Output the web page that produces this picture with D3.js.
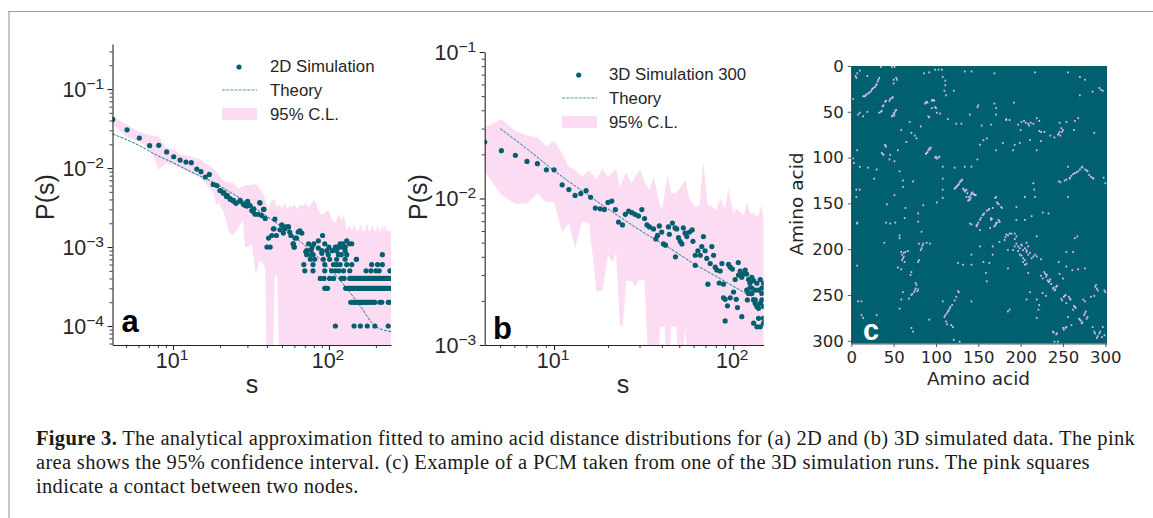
<!DOCTYPE html>
<html>
<head>
<meta charset="utf-8">
<script src="https://cdn.jsdelivr.net/npm/d3@7"></script>
<style>
  html, body { margin: 0; padding: 0; background: #fff; }
  svg { display: block; }
  text { font-family: "Liberation Sans", Arial, sans-serif; fill: #262626; }
</style>
</head>
<body>
<div id="chart"></div>
<script>
// Panel a: simulated P(s), upper part of the curve
var simAS = [4.1,5.07,6.08,7.08,8.1,9.1,10.1,11.1,12.1,13.1,14.2,15.1,16.1,17.1,18.1,19.1,20.2,21.2,22.3,23.4,24.4,25.4,26.9,28.7,30.1,31.2,33,36.1,38.3,
  20,21,22,23.2,24.4,25.3,26.9,28.2,29.7,30,32,32.7,33.6,35.2,36,38,37,39,45,41,43,44,46,48.5,50,52,55,56,63.5,60.5,59,
  44.4,49.7,51,53,55,57,65,67,62,59,59.7,74,80,85.5,91,94,71,77,79,85.5,90,123,116,130,118,220,150,105,110,126,135,140];
var simAP = [4.13e-2,3.05e-2,2.4e-2,1.92e-2,1.94e-2,1.6e-2,1.39e-2,1.26e-2,1.19e-2,1.17e-2,9.7e-3,9e-3,7.7e-3,8.3e-3,6.2e-3,6e-3,5.2e-3,4.9e-3,4.5e-3,4e-3,3.8e-3,3.6e-3,3.8e-3,3.4e-3,3.8e-3,3.35e-3,3.05e-3,3.6e-3,3e-3,
  5.2e-3,4.8e-3,4.35e-3,4.1e-3,3.9e-3,3.6e-3,3.9e-3,3.5e-3,3.3e-3,3.65e-3,2.9e-3,2.8e-3,2.6e-3,2.6e-3,3.65e-3,3e-3,2.5e-3,2.3e-3,2.25e-3,1.3e-3,1.4e-3,1.7e-3,1.4e-3,1.65e-3,1.9e-3,1.7e-3,1.8e-3,1.55e-3,1.55e-3,1.3e-3,1.1e-3,
  1.7e-3,1.9e-3,1.5e-3,1.8e-3,1.8e-3,1.4e-3,1.6e-3,1.5e-3,1.3e-3,1.1e-3,1e-3,1.1e-3,1.1e-3,1.2e-3,1.4e-3,1.1e-3,8.7e-4,9.2e-4,8e-4,9.7e-4,8.3e-4,1.1e-3,1e-3,1.2e-3,1.1e-3,8e-4,7e-4,9e-4,1e-3,1e-3,1.1e-3,1.1e-3];

// Panel a: counts are discrete in the tail, so s is listed per P level
var tailLevels = [1e-4,2e-4,3e-4,4e-4,5e-4,6e-4,7e-4,8e-4,9e-4,1e-3];
var tailS1 = [110,145,159,176,197,240];
var tailS2 = [138,142,145,148,151,154,157,160,163,166,170,174,178,182,186,190,194,197,212,218,240,245];
var tailS3 = [94,96,98,128,131,134,137,140,143,146,149,152,155,158,161,164,167,170,173,176,179,182,185,188,191,194,197,200,204,208,212,216,220,224,228,232,236,240,245,250];
var tailS4 = [88,93,101,107,120,125,136,139,142,145,148,151,155,159,163,167,171,175,179,183,187,191,195,199,203,207,211,215,220,225,230,235,240,250];
var tailS5 = [70,79,94,104,110,116,124,136,173,186,200,210,246];
var tailS6 = [69,79,94,107,112,118,130,140,188,205,220];
var tailS7 = [76,81,92,101,112,127,150];
var tailS8 = [72,77,99,115,120,130];
var tailS9 = [72,90,97,112,127];
var tailS10 = [40,42,60,78,100,112,120,127];
var tailRows = [tailS1,tailS2,tailS3,tailS4,tailS5,tailS6,tailS7,tailS8,tailS9,tailS10];

var theoryAS = [4.1,6,8,10,13,17,22,30,40,60,80,100,130,160,197,220,250];
var theoryAP = [2.7e-2,1.95e-2,1.43e-2,1.17e-2,9e-3,7e-3,5.3e-3,3.6e-3,2.45e-3,1.35e-3,8.3e-4,5.4e-4,3e-4,1.75e-4,1e-4,9e-5,8.5e-5];

var bandAS = [4.1,5,6,7.1,8.1,9,10,11,12,13,
  14.8,16,18,19,19.5,21,23,24.4,26,28,
  29,30,32,34,36,38,39,39.9,41,42,
  43.5,45,46.5,48,50,52,54,56,58,60,
  62,65,68,71,74,77,81,85,90,95,
  100,105,110,115,120,125,130,135,140,145,
  150,155,160,165,170,175,180,185,190,195,
  200,205,210,215,220,225,230,235,240,250];
var bandAUpper = [4.5e-2,3.6e-2,2.9e-2,2.6e-2,2.5e-2,1.8e-2,1.75e-2,1.5e-2,1.45e-2,1.4e-2,
  1.3e-2,1.15e-2,1e-2,9e-3,8.5e-3,6.8e-3,6.6e-3,6.4e-3,5.5e-3,5.8e-3,
  6.1e-3,6.1e-3,6.1e-3,6.3e-3,5.5e-3,4.6e-3,3.9e-3,3.5e-3,2.95e-3,3.6e-3,
  3.9e-3,3.9e-3,3.2e-3,3.4e-3,3.1e-3,3.6e-3,3e-3,3.3e-3,3.2e-3,3.5e-3,
  3e-3,3.4e-3,3.3e-3,3.6e-3,3.2e-3,3.5e-3,4e-3,3e-3,2.5e-3,2.8e-3,
  2.9e-3,2.2e-3,2e-3,2.6e-3,2.2e-3,2.5e-3,1.6e-3,1.9e-3,1.6e-3,1.9e-3,
  1.6e-3,1.6e-3,1.95e-3,1.6e-3,1.6e-3,2e-3,1.6e-3,1.6e-3,1.95e-3,1.6e-3,
  1.6e-3,1.95e-3,1.6e-3,1.6e-3,1.95e-3,1.6e-3,1.9e-3,1.6e-3,1.6e-3,1.6e-3];
var bandALower = [3.7e-2,2.5e-2,2.2e-2,1.75e-2,9.6e-3,1.15e-2,1.1e-2,1e-2,9.3e-3,8.5e-3,
  7.7e-3,6.5e-3,5e-3,3.4e-3,3.6e-3,2.9e-3,1.48e-3,1.45e-3,1.7e-3,2.2e-3,
  1e-3,1e-3,1.1e-3,4.4e-4,6.8e-4,6e-4,5.5e-4,3e-5,3e-5,3e-5,
  3e-5,4.4e-4,4.4e-4,3e-5,3e-5,3e-5,3e-5,3e-5,3e-5,3e-5,
  3e-5,3e-5,3e-5,3e-5,3e-5,3e-5,3e-5,3e-5,3e-5,3e-5,
  3e-5,3e-5,3e-5,3e-5,3e-5,3e-5,3e-5,3e-5,3e-5,3e-5,
  3e-5,3e-5,3e-5,3e-5,3e-5,3e-5,3e-5,3e-5,3e-5,3e-5,
  3e-5,3e-5,3e-5,3e-5,3e-5,3e-5,3e-5,3e-5,3e-5,3e-5];

// Panel b
var simBS = [4.1,5.08,6.08,7.06,8.07,9.06,10,11.1,12.1,13.1,14.1,15.1,16,17,18.1,19.1,20,21,22,
  22.9,24.1,25,26.1,27.2,28.3,29.6,30.9,32,33,34.1,35.9,38.7,37.8,37,39.9,40.8,41.9,43.5,44,45.8,47.4,48.4,47.6,49.5,50.6,51.7,52.7,53.9,55.1,57,59,59.6,61.4,61.4,63.5,65.5,66.8,68.2,69.7,71.2,72.2,74.4,76,77.7,79.4,81,83.6,84.6,86.5,88.3,90.2,88.3,90.2,92.9,94.2,96.2,99,96.2,100.4,102.6,104,105.7,106.7,
  107,109.4,111.7,114,116.7,119,121.8,124,127,129.9,132.7,135.6,138.5,141.6,144.5,147.6,
  111.7,119,121.8,120,127,129.9,132.7,135.6,138.5,141.6,144.5,147.6,130,135.6,141.6,147.6,124,127,144.5,138.5,132.7,147.6];
var simBP = [2.43e-2,2.12e-2,1.97e-2,1.79e-2,1.73e-2,1.57e-2,1.57e-2,1.24e-2,1.15e-2,1.05e-2,1.08e-2,1.13e-2,1.02e-2,8.6e-3,8.5e-3,8.4e-3,9.4e-3,9.6e-3,8.4e-3,
  6.9e-3,6.6e-3,7.8e-3,8.2e-3,8e-3,7.8e-3,7.6e-3,8.4e-3,7.3e-3,6.6e-3,6.4e-3,6.2e-3,6.5e-3,5.6e-3,5.3e-3,5.9e-3,4.9e-3,4.8e-3,6.4e-3,5.7e-3,6.8e-3,6.3e-3,6.2e-3,4e-3,5.4e-3,5.1e-3,4.9e-3,6.3e-3,5.8e-3,5.5e-3,5.9e-3,6.1e-3,5.1e-3,4.1e-3,3.5e-3,4.4e-3,4.1e-3,4.7e-3,5.5e-3,4.4e-3,3.9e-3,2.6e-3,3.6e-3,4.7e-3,4.1e-3,3.4e-3,3.25e-3,2.65e-3,3.2e-3,3.6e-3,2.6e-3,1.46e-3,2.1e-3,2.05e-3,1.85e-3,3.55e-3,3.4e-3,3.3e-3,2.1e-3,2.3e-3,2.8e-3,2.05e-3,1.8e-3,3.65e-3,
  3e-3,3.2e-3,2.9e-3,3.05e-3,3.25e-3,3.05e-3,2.8e-3,2.64e-3,2.45e-3,2.03e-3,1.92e-3,1.83e-3,1.78e-3,1.92e-3,2.03e-3,1.83e-3,
  1.56e-3,2.37e-3,2.25e-3,2.03e-3,2.9e-3,2.75e-3,2.37e-3,2.64e-3,2.37e-3,2.8e-3,2.45e-3,2.64e-3,1.41e-3,1.33e-3,1.33e-3,1.41e-3,2.45e-3,2.25e-3,2.25e-3,1.52e-3,2.03e-3,1.52e-3];

var theoryBS = [5,7,10,14,20,30,44,60,80,109,148];
var theoryBP = [3e-2,2.2e-2,1.55e-2,1.15e-2,8.5e-3,6.1e-3,4.6e-3,3.6e-3,2.95e-3,2.37e-3,1.9e-3];

var bandBS = [4.1,5.08,6.08,7.06,8.07,9.06,10,11.1,12.1,13.1,
  14.3,15.7,17.3,18.6,20,21.3,22.2,23.3,24.2,25.3,
  27.2,28.3,30.2,32,34,36,38,39,40,41.5,
  43,45,48,51,54,57,61,65,68,72,
  76,80,85,90,94,100,105,110,115,119,
  125,130,135,140,144,148];
var bandBUpper = [3.06e-2,3.47e-2,2.9e-2,2.69e-2,2.62e-2,2.26e-2,2.48e-2,2.03e-2,1.65e-2,1.57e-2,
  1.41e-2,1.55e-2,1.35e-2,1.6e-2,1.41e-2,1.5e-2,1.6e-2,1.2e-2,1.35e-2,1.5e-2,
  1.27e-2,1.4e-2,1.58e-2,1.3e-2,1.14e-2,1.41e-2,1.05e-2,9e-3,8.4e-3,1.1e-2,
  1.44e-2,1.1e-2,1.08e-2,1.2e-2,1.34e-2,1e-2,8.8e-3,9e-3,1.81e-2,9e-3,
  8.8e-3,8.3e-3,1e-2,8.5e-3,1.17e-2,7.9e-3,8.5e-3,8e-3,7.7e-3,9.5e-3,
  7.8e-3,8e-3,7.5e-3,8e-3,9e-3,7.1e-3];
var bandBLower = [1.52e-2,1.06e-2,9.2e-3,9.2e-3,1.08e-2,9.4e-3,9.5e-3,5.9e-3,6.8e-3,4.57e-3,
  6.95e-3,6.8e-3,2.31e-3,2.36e-3,4.1e-3,3.7e-3,4.3e-3,1.37e-3,1.37e-3,2.75e-3,
  2.75e-3,2.5e-3,2.8e-3,2.75e-3,5e-4,5e-4,5e-4,1.33e-3,1.33e-3,1.33e-3,
  5e-4,1.33e-3,1.35e-3,5e-4,1.35e-3,5e-4,5e-4,5e-4,5e-4,5e-4,
  5e-4,5e-4,5e-4,5e-4,5e-4,5e-4,5e-4,5e-4,5e-4,5e-4,
  5e-4,5e-4,5e-4,5e-4,5e-4,5e-4];

// Panel c: contacts as [amino acid on x, amino acid on y]
var contacts = [[32,15],[31,17],[30,20],[28,23],[25,25],[23,28],[20,30],[17,32],[14,33],[10,5],[7,8],[5,11],[6,13],[19,11],
  [35,1],[48,1],[51,1],[53,13],[50,15],[54,15],[50,19],[48,35],[45,38],[40,39],[38,43],[36,49],[33,51],[53,48],[51,51],[48,55],[51,54],
  [10,51],[8,53],[14,55],[19,50],[2,36],[87,41],[89,39],[95,38],[97,37],[99,45],[95,46],[101,51],[105,52],[91,55],
  [99,4],[103,4],[107,4],[86,8],[92,7],[108,12],[111,16],[111,21],[110,27],[112,32],[121,27],
  [134,6],[142,6],[169,8],[217,7],[256,7],[270,12],[276,15],[295,26],[293,24],[297,27],[285,28],[270,32],
  [150,43],[149,45],[169,41],[171,46],[171,53],[192,40],[114,58],[124,63],[130,63],[140,53],
  [183,58],[187,59],[201,61],[197,64],[200,70],[209,63],[215,63],[219,57],[222,60],[222,71],[228,72],[235,76],[240,78],[244,75],[246,72],[249,72],[246,62],[254,61],[264,60],[268,57],[263,70],[287,73],
  [154,65],[165,64],[160,79],[156,81],[152,86],[171,92],[179,84],[193,86],[191,92],[199,84],[211,81],[219,92],[224,82],
  [59,70],[65,83],[71,73],[75,76],[77,79],[82,66],[69,61],
  [7,92],[2,101],[3,106],[10,110],[20,111],[30,113],[27,123],[40,87],[37,96],[46,97],[45,102],[51,104],[55,92],
  [93,91],[89,95],[99,100],[103,100],[108,110],[122,111],[134,110],[142,110],[149,102],
  [130,125],[126,130],[122,134],[132,134],[136,135],[142,139],[146,141],[140,146],[136,143],[128,127],[124,132],[134,137],[144,140],[139,143],
  [108,123],[108,135],[73,126],[61,125],[61,132],[57,115],
  [6,135],[10,135],[6,143],[42,151],[64,155],[79,161],[85,152],[63,166],[51,141],[101,149],[108,144],
  [171,143],[173,150],[177,154],[167,155],[162,157],[156,162],[152,168],[148,174],[165,166],[171,172],[175,170],[140,172],
  [195,154],[195,168],[205,168],[213,164],[226,160],[233,161],[205,143],[215,128],[216,135],[217,143],
  [245,126],[254,124],[258,123],[262,118],[266,116],[272,111],[278,114],[281,119],[285,122],[256,110],[256,143],[300,128],[298,122],
  [41,171],[46,172],[52,171],[7,171],[79,170],
  [57,185],[57,188],[83,181],[85,194],[83,199],[89,193],[93,194],[39,193],[7,172],
  [59,203],[61,210],[63,214],[67,202],[59,222],[71,225],[70,228],[79,214],[80,212],[55,220],[7,218],
  [76,237],[75,245],[71,250],[78,246],[61,247],[59,255],[68,254],[57,265],[71,286],[73,290],
  [8,257],[12,257],[12,272],[14,275],[30,272],[26,297],
  [108,257],[126,246],[122,256],[116,265],[114,268],[110,274],[112,279],[118,283],[120,285],[128,301],[121,299],[92,277],
  [142,206],[126,215],[132,217],[142,217],[156,214],[163,215],[159,226],[160,235],[167,197],[167,206],[152,197],[175,192],[142,257],
  [142,173],[148,175],[152,179],[165,168],[171,172],[175,170],[169,175],[164,177],
  [183,184],[187,183],[193,183],[181,190],[185,201],[195,194],[197,197],[201,195],[203,201],[207,201],[199,206],[209,206],[203,210],[205,217],[217,206],[213,210],[185,221],[209,226],[219,186],[224,211],[264,188],[267,186],
  [193,197],[197,202],[201,207],[207,193],[209,197],[191,201],
  [245,214],[254,203],[262,203],[254,219],[261,223],[268,222],[276,221],[246,227],[250,232],
  [228,225],[230,230],[226,232],[232,234],[234,235],[224,229],[238,243],[242,241],[240,245],[226,248],[230,251],[211,247],[207,255],[219,255],[222,261],[221,266],[219,275],[187,266],[185,268],
  [248,254],[252,251],[258,254],[254,259],[264,263],[262,266],[276,257],[274,255],[287,251],[283,252],[289,239],[291,245],[299,245],
  [256,274],[270,277],[276,270],[278,276],[272,281],[260,283],[250,286],[254,285],[238,290],[242,293],[285,285],[287,290],[293,292],[297,285],[291,295],[299,294],[244,301],[240,301],
  [33,13],[29,21],[26,24],[24,26],[21,29],[18,31],[16,33],[46,36],[49,34],[41,38],[37,44],[35,50],[52,49],[50,52],[49,54],
  [90,40],[96,37],[98,38],[88,40],[100,46],[92,56],[91,92],[92,90],[94,89],[90,94],[88,96],[100,99],[101,101],[104,99],[40,86],[41,88],[36,95],[38,97],
  [127,129],[129,126],[131,124],[123,133],[125,131],[133,135],[135,136],[137,139],[141,141],[143,138],[145,140],[147,141],[141,144],[138,147],[139,146],
  [170,144],[172,149],[174,151],[178,155],[163,156],[160,158],[157,161],[155,163],[153,166],[150,171],[149,173],[166,167],[172,171],[174,168],[170,174],
  [258,122],[260,120],[264,117],[268,115],[270,113],[273,110],[276,113],[279,115],[283,121],[286,123],[252,125],[247,127],
  [201,196],[199,199],[193,189],[195,186],[205,199],[207,203],[211,204],[215,208],[219,208],[205,212],[207,216],[203,214],[189,183],[185,185],[182,187],
  [229,227],[231,228],[233,236],[235,233],[236,238],[239,242],[241,244],[243,240],
  [113,270],[115,267],[117,263],[119,261],[111,272],[124,252],[127,247],[113,282],
  [77,239],[76,243],[74,247],[72,249],[79,244],[60,206],[62,208],[60,212],[62,204],[64,203],
  [249,256],[251,252],[253,250],[257,252],[259,255],[263,262],[265,264],[271,278],[273,280],[275,272],[277,268],[279,274],[269,276],
  [243,292],[239,291],[251,288],[253,286],[288,292],[290,297],[294,290],[296,296],
  [204,60],[206,62],[210,65],[212,62],[245,74],[247,76],[250,70],[248,68],[224,72],[183,59],
  [300,247],[288,241],[290,243],[80,194],[84,196],[82,201]];

var captionLines = [
  ["Figure 3.", " The analytical approximation fitted to amino acid distance distributions for (a) 2D and (b) 3D simulated data. The pink"],
  ["", "area shows the 95% confidence interval. (c) Example of a PCM taken from one of the 3D simulation runs. The pink squares"],
  ["", "indicate a contact between two nodes."]
];

var teal = "#00606f";
var pink = "#fbdcf2";

var svg = d3.select("#chart").append("svg").attr("width", 1153).attr("height", 518);

// Frame of the figure box
svg.append("path").attr("d", "M9,518V12").attr("fill", "none").attr("stroke", "#c8c8c8").attr("stroke-width", 2);
svg.append("path").attr("d", "M8,11.5H1153").attr("fill", "none").attr("stroke", "#a0a0a0").attr("stroke-width", 1.2);

// Draws a log-log panel; ticks are split in a labelled major set and a minor set
function logPanel(o) {
  var x = d3.scaleLog().domain(o.xDomain).range([o.left, o.right]);
  var y = d3.scaleLog().domain(o.yDomain).range([o.bottom, o.top]);
  var clipId = "clip-" + o.name;
  svg.append("clipPath").attr("id", clipId).append("rect")
    .attr("x", o.left).attr("y", o.top).attr("width", o.right - o.left).attr("height", o.bottom - o.top);
  var plot = svg.append("g").attr("clip-path", "url(#" + clipId + ")");

  plot.append("path")
    .datum(d3.range(o.bandS.length))
    .attr("fill", pink)
    .attr("d", d3.area()
      .x(function (i) { return x(o.bandS[i]); })
      .y0(function (i) { return y(o.bandLower[i]); })
      .y1(function (i) { return y(o.bandUpper[i]); }));

  plot.append("path")
    .datum(d3.range(o.theoryS.length))
    .attr("fill", "none").attr("stroke", "#1f7f8d").attr("stroke-width", 1).attr("stroke-dasharray", "3,1.2")
    .attr("d", d3.line().curve(d3.curveMonotoneX)
      .x(function (i) { return x(o.theoryS[i]); })
      .y(function (i) { return y(o.theoryP[i]); }));

  plot.selectAll("circle").data(o.points).enter().append("circle")
    .attr("cx", function (d) { return x(d[0]); })
    .attr("cy", function (d) { return y(d[1]); })
    .attr("r", 2.6).attr("fill", teal);

  addAxis(d3.axisBottom(x), "translate(0," + o.bottom + ")", o.xMajor, o.xMinor);
  addAxis(d3.axisLeft(y), "translate(" + o.left + ",0)", o.yMajor, o.yMinor);

  o.xMajor.forEach(function (v) { powerLabel(x(v) - 1, o.bottom + 22.7, "middle", Math.round(Math.log10(v))); });
  o.yMajor.forEach(function (v) { powerLabel(o.left - 8.5, y(v) + 7.5, "end", Math.round(Math.log10(v))); });
}

function addAxis(axis, transform, major, minor) {
  var g = svg.append("g").attr("transform", transform);
  g.call(axis.tickValues(minor).tickSize(3).tickSizeOuter(0).tickFormat(""));
  g.selectAll(".domain").attr("stroke", "#262626").attr("stroke-width", 1.1);
  g.selectAll(".tick line").attr("stroke", "#262626").attr("stroke-width", 0.9);
  var g2 = svg.append("g").attr("transform", transform);
  g2.call(axis.tickValues(major).tickSize(5).tickFormat(""));
  g2.select(".domain").remove();
  g2.selectAll(".tick line").attr("stroke", "#262626").attr("stroke-width", 1.1);
}

function powerLabel(px, py, anchor, exponent) {
  var t = svg.append("text").attr("x", px).attr("y", py).attr("text-anchor", anchor).attr("font-size", 21.5);
  t.append("tspan").text("10");
  t.append("tspan").attr("dy", -8).attr("font-size", 15.5).text(exponent < 0 ? "\u2212" + (-exponent) : exponent);
}

function legend(dotX, lineX, textX, base, first) {
  svg.append("circle").attr("cx", dotX).attr("cy", base - 5).attr("r", 2.6).attr("fill", teal);
  svg.append("line").attr("x1", lineX).attr("x2", lineX + 35).attr("y1", base + 18).attr("y2", base + 18)
    .attr("stroke", "#4d9aa6").attr("stroke-width", 1.1).attr("stroke-dasharray", "3,1.2");
  svg.append("rect").attr("x", lineX).attr("y", base + 36).attr("width", 35).attr("height", 12).attr("fill", pink);
  [first, "Theory", "95% C.L."].forEach(function (s, i) {
    svg.append("text").attr("x", textX).attr("y", base + i * 24).attr("font-size", 16.8).text(s);
  });
}

function bigText(s, px, py, size, weight, fill, rotate) {
  var t = svg.append("text").attr("text-anchor", "middle").attr("font-size", size).attr("font-weight", weight).text(s);
  if (fill) t.style("fill", fill);
  if (rotate) t.attr("transform", "translate(" + px + "," + py + ") rotate(-90)");
  else t.attr("x", px).attr("y", py);
  return t;
}

// Panel a points: the listed curve plus the discrete tail levels
var pointsA = simAS.map(function (s, i) { return [s, simAP[i]]; });
tailRows.forEach(function (row, i) {
  row.forEach(function (s) { pointsA.push([s, tailLevels[i]]); });
});
var pointsB = simBS.map(function (s, i) { return [s, simBP[i]]; });

logPanel({
  name: "a", left: 112.5, right: 391, top: 44, bottom: 345,
  xDomain: [4.09, 250], yDomain: [5.75e-5, 0.372],
  xMajor: [10, 100], xMinor: [5,6,7,8,9,20,30,40,50,60,70,80,90,200],
  yMajor: [1e-4,1e-3,1e-2,1e-1],
  yMinor: [6e-5,7e-5,8e-5,9e-5,2e-4,3e-4,4e-4,5e-4,6e-4,7e-4,8e-4,9e-4,2e-3,3e-3,4e-3,5e-3,6e-3,7e-3,8e-3,9e-3,2e-2,3e-2,4e-2,5e-2,6e-2,7e-2,8e-2,9e-2,2e-1,3e-1],
  bandS: bandAS, bandUpper: bandAUpper, bandLower: bandALower,
  theoryS: theoryAS, theoryP: theoryAP, points: pointsA
});
logPanel({
  name: "b", left: 484.7, right: 763.7, top: 52, bottom: 345,
  xDomain: [4.1, 148], yDomain: [1e-3, 1e-1],
  xMajor: [10, 100], xMinor: [5,6,7,8,9,20,30,40,50,60,70,80,90],
  yMajor: [1e-3,1e-2,1e-1],
  yMinor: [2e-3,3e-3,4e-3,5e-3,6e-3,7e-3,8e-3,9e-3,2e-2,3e-2,4e-2,5e-2,6e-2,7e-2,8e-2,9e-2],
  bandS: bandBS, bandUpper: bandBUpper, bandLower: bandBLower,
  theoryS: theoryBS, theoryP: theoryBP, points: pointsB
});

legend(239, 222, 270, 72, "2D Simulation");
legend(578.7, 562, 609, 80, "3D Simulation 300");

bigText("P(s)", 54, 197, 25, "normal", null, true);
bigText("s", 252, 393, 25, "normal");
bigText("P(s)", 427, 197, 25, "normal", null, true);
bigText("s", 623, 393, 25, "normal");
bigText("a", 130, 332, 31, "bold", "#000");
bigText("b", 502.5, 339, 31, "bold", "#000");

// Panel c: contact map
var cx = d3.scaleLinear().domain([0, 302]).range([851.3, 1107]);
var cy = d3.scaleLinear().domain([0, 303]).range([66, 343.5]);
var cellW = cx(2) - cx(0), cellH = cy(2) - cy(0);

svg.append("filter").attr("id", "soft").append("feGaussianBlur").attr("stdDeviation", 0.35);
svg.append("rect").attr("x", cx(0)).attr("y", cy(0)).attr("width", cx(302) - cx(0)).attr("height", cy(303) - cy(0)).attr("fill", teal);
svg.append("g").attr("filter", "url(#soft)").selectAll("rect").data(contacts).enter().append("rect")
  .attr("x", function (d) { return cx(d[0]) - cellW / 2; })
  .attr("y", function (d) { return cy(d[1]) - cellH / 2; })
  .attr("width", cellW).attr("height", cellH)
  .attr("fill", "#d9bdea");

var cTicks = [0,50,100,150,200,250,300];
function styleC(g) {
  g.select(".domain").attr("stroke", "#333").attr("stroke-width", 0.8);
  g.selectAll(".tick line").attr("stroke", "#333").attr("stroke-width", 0.8);
  g.selectAll("text").attr("font-size", 16.5).style("font-family", "'DejaVu Sans', sans-serif");
}
svg.append("g").attr("transform", "translate(0,343.5)")
  .call(d3.axisBottom(cx).tickValues(cTicks).tickSize(3.5).tickSizeOuter(0).tickPadding(4)).call(styleC);
svg.append("g").attr("transform", "translate(851.3,0)")
  .call(d3.axisLeft(cy).tickValues(cTicks).tickSize(3.5).tickSizeOuter(0).tickPadding(4)).call(styleC);

bigText("Amino acid", 978.5, 385, 18.5, "normal").style("font-family", "'DejaVu Sans', sans-serif");
bigText("Amino acid", 803, 204, 18.5, "normal", null, true).style("font-family", "'DejaVu Sans', sans-serif");
bigText("c", 871, 340, 29, "bold", "#fff");

// Caption
captionLines.forEach(function (line, i) {
  var t = svg.append("text").attr("x", 36).attr("y", 445 + i * 24).attr("font-size", 20.5).attr("letter-spacing", 0.32);
  t.style("font-family", "'Liberation Serif', serif").style("fill", "#1a1a1a");
  if (line[0]) t.append("tspan").attr("font-weight", "bold").text(line[0]);
  t.append("tspan").text(line[1]);
});
</script>
</body>
</html>
